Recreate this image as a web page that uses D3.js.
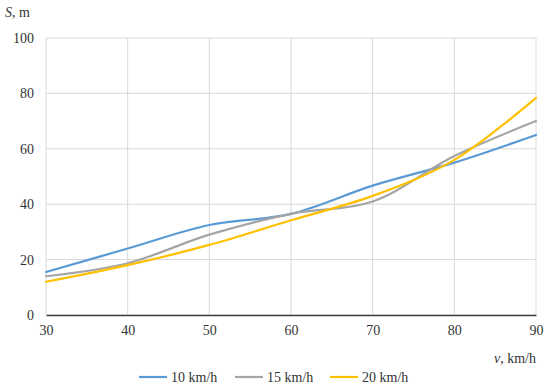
<!DOCTYPE html>
<html>
<head>
<meta charset="utf-8">
<script src="https://cdn.jsdelivr.net/npm/d3@7"></script>
</head>
<body style="margin:0">
<svg id="chart" width="550" height="386"></svg>
<script>
// Data
const speeds = [30, 40, 50, 60, 70, 80, 90];
const s10 = [15.5, 24, 32.5, 36.5, 46.7, 55, 65];
const s15 = [14, 18.7, 29, 36.5, 41, 57.4, 70];
const s20 = [12, 18, 25.3, 34.2, 43, 56, 78.4];
const seriesNames = ["10 km/h", "15 km/h", "20 km/h"];
const yTicks = [0, 20, 40, 60, 80, 100];

const series = [
  {name: seriesNames[0], values: s10, colour: "#5B9BD5"},
  {name: seriesNames[1], values: s15, colour: "#A5A5A5"},
  {name: seriesNames[2], values: s20, colour: "#FFC000"}
];

const fontFamily = '"Liberation Serif", "Times New Roman", serif';
const fontSize = "14px";
const textColour = "#333";

const width = 550;
const height = 386;
const margin = {top: 38, right: 14, bottom: 71, left: 46};
const innerWidth = width - margin.left - margin.right;
const innerHeight = height - margin.top - margin.bottom;

const svg = d3.select("#chart");

const innerChart = svg.append("g")
  .attr("transform", `translate(${margin.left}, ${margin.top})`);

// Scales
const xScale = d3.scaleLinear()
  .domain([30, 90])
  .range([0, innerWidth]);
const yScale = d3.scaleLinear()
  .domain([0, 100])
  .range([innerHeight, 0]);

// Gridlines
innerChart.append("g")
  .selectAll("line")
  .data(yTicks)
  .join("line")
    .attr("x1", 0)
    .attr("x2", innerWidth)
    .attr("y1", d => yScale(d))
    .attr("y2", d => yScale(d))
    .attr("stroke", "#d9d9d9")
    .attr("stroke-width", 1);
innerChart.append("g")
  .selectAll("line")
  .data(speeds)
  .join("line")
    .attr("x1", d => xScale(d))
    .attr("x2", d => xScale(d))
    .attr("y1", 0)
    .attr("y2", innerHeight)
    .attr("stroke", "#d9d9d9")
    .attr("stroke-width", 1);

// Bottom axis
const bottomAxis = d3.axisBottom(xScale)
  .tickValues(speeds)
  .tickSize(0)
  .tickPadding(10);
const xAxis = innerChart.append("g")
  .attr("transform", `translate(0, ${innerHeight})`)
  .call(bottomAxis);
xAxis.select(".domain").attr("stroke", "#404040").attr("stroke-width", 1.5);

// Left axis
const leftAxis = d3.axisLeft(yScale)
  .tickValues(yTicks)
  .tickSize(0)
  .tickPadding(12);
const yAxis = innerChart.append("g")
  .call(leftAxis);
yAxis.select(".domain").remove();

// Lines
const line = d3.line()
  .x((d, i) => xScale(speeds[i]))
  .y(d => yScale(d))
  .curve(d3.curveCatmullRom.alpha(0.5));

innerChart.selectAll(".series")
  .data(series)
  .join("path")
    .attr("class", "series")
    .attr("d", d => line(d.values))
    .attr("fill", "none")
    .attr("stroke", d => d.colour)
    .attr("stroke-width", 2.2)
    .attr("stroke-linecap", "round");

// Axis titles
const yTitle = svg.append("text")
  .attr("x", 5)
  .attr("y", 17);
yTitle.append("tspan").style("font-style", "italic").text("S");
yTitle.append("tspan").text(", m");

const xTitle = svg.append("text")
  .attr("x", margin.left + innerWidth)
  .attr("y", 363)
  .attr("text-anchor", "end");
xTitle.append("tspan").style("font-style", "italic").text("v");
xTitle.append("tspan").text(", km/h");

// Legend
const legendX = [139, 235, 330];
const legend = svg.append("g")
  .selectAll("g")
  .data(series)
  .join("g")
    .attr("transform", (d, i) => `translate(${legendX[i]}, 377)`);
legend.append("line")
  .attr("x1", 0)
  .attr("x2", 28)
  .attr("stroke", d => d.colour)
  .attr("stroke-width", 2.2);
legend.append("text")
  .attr("x", 32)
  .attr("dy", "0.35em")
  .text(d => d.name);

// Font on every text element, forced
svg.selectAll("text, tspan")
  .style("font-family", fontFamily, "important")
  .style("font-size", fontSize, "important")
  .style("fill", textColour, "important");
</script>
</body>
</html>
